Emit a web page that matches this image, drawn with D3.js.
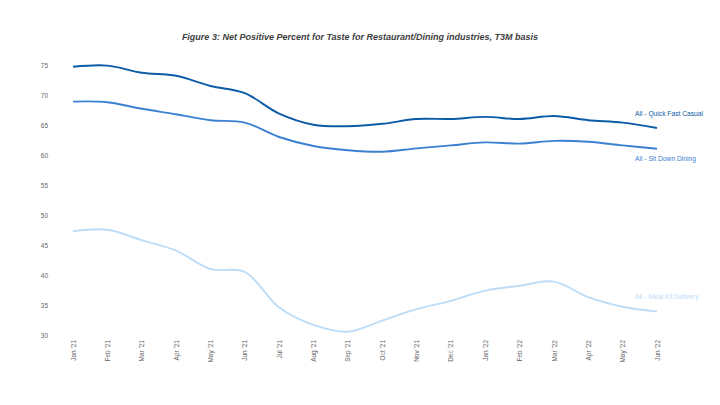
<!DOCTYPE html>
<html>
<head>
<meta charset="utf-8">
<script src="https://cdn.jsdelivr.net/npm/d3@7"></script>
<style>
  body { margin: 0; background: #fff; }
  svg { display: block; font-family: "Liberation Sans", Arial, sans-serif; }
</style>
</head>
<body>
<div id="chart"></div>
<script>
// Months on the x axis
const months = ["Jan '21", "Feb '21", "Mar '21", "Apr '21", "May '21", "Jun '21", "Jul '21", "Aug '21", "Sep '21",
    "Oct '21", "Nov '21", "Dec '21", "Jan '22", "Feb '22", "Mar '22", "Apr '22", "May '22", "Jun '22"];

// Net positive percent, T3M basis
const quickFastCasual = [74.7, 74.9, 73.7, 73.2, 71.5, 70.3, 66.9, 65.05, 64.8, 65.2, 66.0, 66.0, 66.35, 66.0, 66.5, 65.8, 65.4, 64.5];
const sitDownDining = [68.9, 68.8, 67.7, 66.8, 65.8, 65.4, 63.0, 61.5, 60.8, 60.55, 61.1, 61.6, 62.1, 61.9, 62.35, 62.2, 61.6, 61.05];
const mealKitDelivery = [47.3, 47.55, 45.8, 44.05, 41.0, 40.5, 34.6, 31.7, 30.55, 32.4, 34.3, 35.7, 37.4, 38.2, 38.9, 36.3, 34.7, 33.9];

const yTicks = [30, 35, 40, 45, 50, 55, 60, 65, 70, 75];

const series = [
    { name: 'All - Quick Fast Casual', values: quickFastCasual, color: '#0b5ba6', labelY: 114 },
    { name: 'All - Sit Down Dining', values: sitDownDining, color: '#3c80d1', labelY: 159 },
    { name: 'All - Meal Kit Delivery', values: mealKitDelivery, color: '#bddcf7', labelY: 297 }
];

const width = 720, height = 405;

const svg = d3.select('#chart').append('svg')
    .attr('width', width)
    .attr('height', height);

// Scales
const x = d3.scalePoint()
    .domain(months)
    .range([73, 657]);

const y = d3.scaleLinear()
    .domain([30, 75])
    .range([335, 65]);

// Title
svg.append('text')
    .attr('x', 360)
    .attr('y', 40)
    .attr('text-anchor', 'middle')
    .attr('font-size', '9px')
    .attr('font-style', 'italic')
    .attr('font-weight', 'bold')
    .attr('fill', '#404040')
    .text('Figure 3: Net Positive Percent for Taste for Restaurant/Dining industries, T3M basis');

// Y axis (labels only)
const yAxis = svg.append('g')
    .attr('transform', 'translate(48,0)')
    .call(d3.axisLeft(y).tickValues(yTicks).tickSize(0).tickPadding(0));
yAxis.select('.domain').remove();
yAxis.selectAll('text')
    .attr('font-size', '6.5px')
    .attr('font-family', '"Liberation Sans Narrow", "Liberation Sans", sans-serif')
    .attr('fill', '#666');

// X axis (rotated labels only)
const xAxis = svg.append('g')
    .attr('transform', 'translate(0,340)')
    .call(d3.axisBottom(x).tickSize(0).tickPadding(0));
xAxis.select('.domain').remove();
xAxis.selectAll('text')
    .attr('font-size', '6.5px')
    .attr('font-family', '"Liberation Sans Narrow", "Liberation Sans", sans-serif')
    .attr('fill', '#666')
    .attr('text-anchor', 'end')
    .attr('dy', '0.32em')
    .attr('transform', 'rotate(-90)')
    .attr('x', 0)
    .attr('y', 0);

// Lines
const line = d3.line()
    .x((d, i) => x(months[i]))
    .y(d => y(d))
    .curve(d3.curveCatmullRom.alpha(0.5));

series.forEach(s => {
    svg.append('path')
        .datum(s.values)
        .attr('d', line)
        .attr('fill', 'none')
        .attr('stroke', s.color)
        .attr('stroke-width', 1.9)
        .attr('stroke-linejoin', 'round');

    svg.append('text')
        .attr('x', 635)
        .attr('y', s.labelY)
        .attr('dy', '0.35em')
        .attr('font-size', '6.7px')
        .attr('fill', s.color)
        .text(s.name);
});
</script>
</body>
</html>
